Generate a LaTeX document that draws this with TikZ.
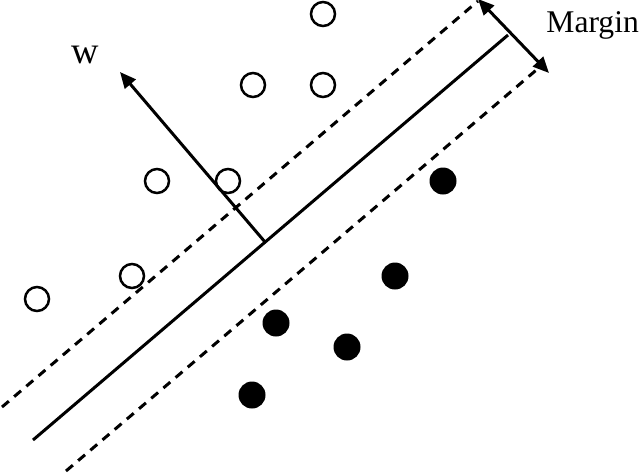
\documentclass[tikz,border=0pt]{standalone}
\usepackage{fontspec}
\setmainfont{Liberation Serif}
\usetikzlibrary{arrows.meta}
\begin{document}
\begin{tikzpicture}[x=0.5pt,y=-0.5pt,
  open/.style={circle,draw,line width=1.25pt,minimum size=12pt,inner sep=0pt},
  full/.style={circle,fill,minimum size=13.5pt,inner sep=0pt},
  hyper/.style={line width=1.5pt},
  marginline/.style={line width=1.5pt,dash pattern=on 4.5pt off 3.5pt},
  vec/.style={line width=1.5pt,-{Triangle[length=8pt,width=7pt]}},
  dvec/.style={line width=1.5pt,{Triangle[length=8pt,width=7pt]}-{Triangle[length=8pt,width=7pt]}},
  lbl/.style={font=\fontsize{15.8}{18}\selectfont,inner sep=0pt}]
\useasboundingbox (0,0) rectangle (640,472);
% hyperplane
\coordinate (s1) at (33,440);
\coordinate (s2) at (508,35);
\draw[hyper] (s1) -- (s2);
% margins
\coordinate (u1) at (2,407);
\coordinate (u2) at (478,1);
\coordinate (l1) at (66,471);
\coordinate (l2) at (541,66);
\draw[marginline] (u1) -- (u2);
\draw[marginline] (l1) -- (l2);
% margin arrow
\coordinate (mtop) at (478,-1);
\coordinate (mbot) at (549,73);
\draw[dvec] (mtop) -- (mbot);
\node[lbl,anchor=base west] (margin) at (546,32) {Margin};
% w vector
\coordinate (foot) at (265,242);
\coordinate (wtip) at (120,72);
\draw[vec] (foot) -- (wtip);
\node[lbl,font=\fontsize{19}{22}\selectfont,anchor=base west] (w) at (71,63) {w};
% open circles
\node[open] (o1) at (323,14) {};
\node[open] (o2) at (253,85) {};
\node[open] (o3) at (323,85) {};
\node[open] (o4) at (157,181) {};
\node[open] (o5) at (228,181) {};
\node[open] (o6) at (132,276) {};
\node[open] (o7) at (37,299) {};
% filled dots
\node[full] (f1) at (443,181) {};
\node[full] (f2) at (395,276) {};
\node[full] (f3) at (276,323) {};
\node[full] (f4) at (347,347) {};
\node[full] (f5) at (252,395) {};
\end{tikzpicture}
\end{document}
